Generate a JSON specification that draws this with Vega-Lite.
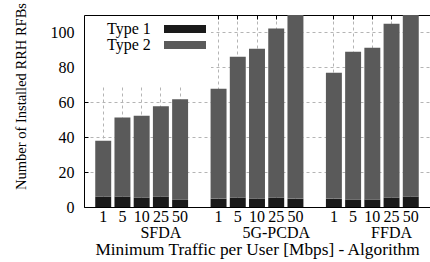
{
  "$schema": "https://vega.github.io/schema/vega-lite/v6.json",
  "autosize": {"type": "none"},
  "padding": {"left": 84, "top": 15, "right": 0, "bottom": 55},
  "width": 346,
  "height": 192,
  "config": {"font": "Liberation Serif", "view": {"stroke": null}},
  "data": {"values": [
    {"bar": "SFDA|1", "type": "Type 1", "count": 5.9},
    {"bar": "SFDA|1", "type": "Type 2", "count": 32.1},
    {"bar": "SFDA|5", "type": "Type 1", "count": 5.9},
    {"bar": "SFDA|5", "type": "Type 2", "count": 45.4},
    {"bar": "SFDA|10", "type": "Type 1", "count": 5.3},
    {"bar": "SFDA|10", "type": "Type 2", "count": 47.0},
    {"bar": "SFDA|25", "type": "Type 1", "count": 5.9},
    {"bar": "SFDA|25", "type": "Type 2", "count": 51.8},
    {"bar": "SFDA|50", "type": "Type 1", "count": 4.2},
    {"bar": "SFDA|50", "type": "Type 2", "count": 57.5},
    {"bar": "5G-PCDA|1", "type": "Type 1", "count": 4.8},
    {"bar": "5G-PCDA|1", "type": "Type 2", "count": 63.0},
    {"bar": "5G-PCDA|5", "type": "Type 1", "count": 5.3},
    {"bar": "5G-PCDA|5", "type": "Type 2", "count": 80.8},
    {"bar": "5G-PCDA|10", "type": "Type 1", "count": 4.8},
    {"bar": "5G-PCDA|10", "type": "Type 2", "count": 85.9},
    {"bar": "5G-PCDA|25", "type": "Type 1", "count": 5.3},
    {"bar": "5G-PCDA|25", "type": "Type 2", "count": 96.9},
    {"bar": "5G-PCDA|50", "type": "Type 1", "count": 4.8},
    {"bar": "5G-PCDA|50", "type": "Type 2", "count": 107.2},
    {"bar": "FFDA|1", "type": "Type 1", "count": 4.8},
    {"bar": "FFDA|1", "type": "Type 2", "count": 72.1},
    {"bar": "FFDA|5", "type": "Type 1", "count": 4.2},
    {"bar": "FFDA|5", "type": "Type 2", "count": 84.8},
    {"bar": "FFDA|10", "type": "Type 1", "count": 4.2},
    {"bar": "FFDA|10", "type": "Type 2", "count": 87.1},
    {"bar": "FFDA|25", "type": "Type 1", "count": 5.3},
    {"bar": "FFDA|25", "type": "Type 2", "count": 99.7},
    {"bar": "FFDA|50", "type": "Type 1", "count": 5.9},
    {"bar": "FFDA|50", "type": "Type 2", "count": 106.1}
  ]},
  "layer": [
    {
      "mark": {"type": "bar", "clip": true},
      "encoding": {
        "x": {
          "field": "bar", "type": "nominal",
          "scale": {
            "domain": ["SFDA|1","SFDA|5","SFDA|10","SFDA|25","SFDA|50","gap1","5G-PCDA|1","5G-PCDA|5","5G-PCDA|10","5G-PCDA|25","5G-PCDA|50","gap2","FFDA|1","FFDA|5","FFDA|10","FFDA|25","FFDA|50"],
            "paddingInner": 0.17, "paddingOuter": 0.585
          },
          "axis": {
            "values": ["SFDA|1","SFDA|5","SFDA|10","SFDA|25","SFDA|50","5G-PCDA|1","5G-PCDA|5","5G-PCDA|10","5G-PCDA|25","5G-PCDA|50","FFDA|1","FFDA|5","FFDA|10","FFDA|25","FFDA|50"],
            "bandPosition": 0.5,
            "labelExpr": "split(datum.value, '|')[1] == '25' ? ['25', split(datum.value, '|')[0]] : split(datum.value, '|')[1]",
            "labelAngle": 0,
            "labelFontSize": 16,
            "labelColor": "black",
            "labelPadding": 1,
            "labelLineHeight": 16,
            "labelOverlap": false,
            "labelBound": false,
            "ticks": false,
            "domainColor": "black",
            "grid": true,
            "gridDash": [3, 3],
            "gridColor": "#b4b4b4",
            "title": "Minimum Traffic per User [Mbps] - Algorithm",
            "titleFontSize": 17.3,
            "titleFontWeight": "normal",
            "titleColor": "black",
            "titlePadding": 0
          }
        },
        "y": {
          "field": "count", "type": "quantitative", "stack": "zero",
          "scale": {"domain": [0, 110], "nice": false},
          "axis": {
            "values": [0, 20, 40, 60, 80, 100],
            "labelFontSize": 16,
            "labelColor": "black",
            "labelPadding": 14,
            "ticks": true,
            "tickSize": -4,
            "tickColor": "black",
            "domainColor": "black",
            "grid": true,
            "gridDash": [3, 3],
            "gridColor": "#b4b4b4",
            "title": "Number of Installed RRH RFBs",
            "titleFontSize": 14.5,
            "titleFontWeight": "normal",
            "titleColor": "black",
            "titlePadding": 22,
            "titleY": 81
          }
        },
        "order": {"field": "type", "sort": "ascending"},
        "color": {
          "field": "type", "type": "nominal",
          "scale": {"domain": ["Type 1", "Type 2"], "range": ["#1a1a1a", "#5a5a5a"]},
          "legend": {
            "orient": "top-left",
            "offset": 1,
            "fillColor": "white",
            "padding": 5,
            "title": "\u00a0",
            "titleOrient": "bottom",
            "titlePadding": 12.5,
            "titleFontSize": 16,
            "labelFontSize": 16,
            "labelColor": "black",
            "labelAlign": "left",
            "labelOffset": -86,
            "symbolType": "M-5.25,-1H5.25V1H-5.25Z",
            "symbolSize": 64,
            "symbolStrokeWidth": 0,
            "symbolOpacity": 1,
            "symbolOffset": 87,
            "rowPadding": -0.5
          }
        }
      }
    },
    {
      "mark": {"type": "tick", "opacity": 0},
      "encoding": {
        "x": {
          "field": "bar", "type": "nominal",
          "axis": {
            "orient": "top",
            "values": ["SFDA|1","SFDA|5","SFDA|10","SFDA|25","SFDA|50","5G-PCDA|1","5G-PCDA|5","5G-PCDA|10","5G-PCDA|25","5G-PCDA|50","FFDA|1","FFDA|5","FFDA|10","FFDA|25","FFDA|50"],
            "bandPosition": 0.5,
            "labels": false,
            "ticks": true,
            "tickSize": -4,
            "tickColor": "black",
            "domainColor": "black",
            "grid": false,
            "title": null
          }
        }
      }
    }
  ],
  "resolve": {"axis": {"x": "independent"}}
}
